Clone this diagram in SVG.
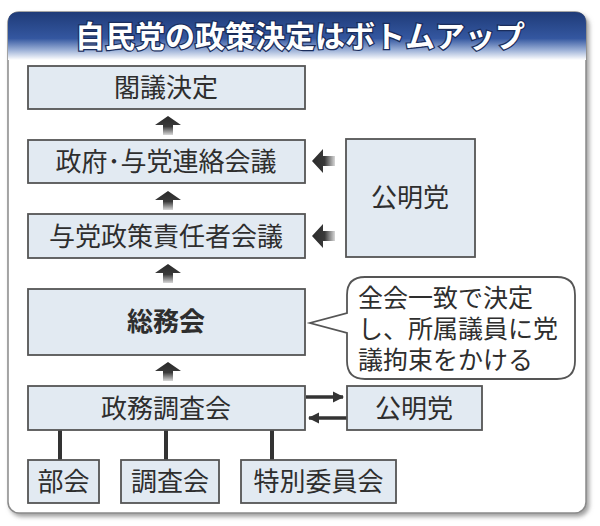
<svg xmlns="http://www.w3.org/2000/svg" width="600" height="526" viewBox="0 0 600 526">
<defs>
<style>
.box{fill:#e2eaf2;stroke:#555;stroke-width:1.8}
.t{font-family:"Noto Sans CJK JP","Noto Sans CJK SC",sans-serif;font-size:26px;fill:#2e2e2e;text-anchor:middle}
.tb{font-weight:bold}
.bt{font-family:"Noto Sans CJK JP","Noto Sans CJK SC",sans-serif;font-size:25px;fill:#2e2e2e}
.ln{stroke:#333;stroke-width:4;fill:none}
.ar{stroke:#333;stroke-width:3.5;fill:none}
</style>
<linearGradient id="hdr" x1="0" y1="0" x2="0" y2="1">
<stop offset="0" stop-color="#1f3b78"/>
<stop offset="0.55" stop-color="#3457a0"/>
<stop offset="0.8" stop-color="#9fb3d8"/>
<stop offset="1" stop-color="#ffffff"/>
</linearGradient>
<linearGradient id="ug" x1="0" y1="0" x2="0" y2="1">
<stop offset="0" stop-color="#2a2a2a"/>
<stop offset="0.55" stop-color="#3a3a3a"/>
<stop offset="1" stop-color="#d8d8d8"/>
</linearGradient>
<linearGradient id="lg" x1="0" y1="0" x2="1" y2="0">
<stop offset="0" stop-color="#2a2a2a"/>
<stop offset="0.55" stop-color="#3a3a3a"/>
<stop offset="1" stop-color="#d8d8d8"/>
</linearGradient>
<path id="up" d="M0,0 L13,9 L5,9 L5,19 L-5,19 L-5,9 L-13,9 Z" fill="url(#ug)"/>
<path id="lt" d="M0,0 L11,-12 L11,-5 L23,-5 L23,5 L11,5 L11,12 Z" fill="url(#lg)"/>
<marker id="ah" viewBox="0 0 10 10" refX="9" refY="5" markerWidth="3.2" markerHeight="3.2" orient="auto" markerUnits="strokeWidth">
<path d="M0,0 L10,5 L0,10 Z" fill="#333"/>
</marker>
<filter id="sh" x="-5%" y="-5%" width="110%" height="110%">
<feDropShadow dx="2.5" dy="3" stdDeviation="2" flood-color="#777" flood-opacity="0.7"/>
</filter>
</defs>

<g id="panel">
<rect x="8" y="12" width="578" height="501" rx="11" fill="#fff" stroke="#8a8a8a" stroke-width="1.5" filter="url(#sh)"/>
<path d="M8,60 L8,23 Q8,12 19,12 L575,12 Q586,12 586,23 L586,60 Z" fill="url(#hdr)"/>
<text x="300" y="47" font-family="Noto Sans CJK JP,Noto Sans CJK SC,sans-serif" font-size="30" font-weight="bold" fill="#fff" text-anchor="middle" stroke="#1a2d5c" stroke-width="2.5" paint-order="stroke">自民党の政策決定はボトムアップ</text>
</g>

<g id="connectors">
<use href="#up" x="168" y="116"/>
<use href="#up" x="168" y="191"/>
<use href="#up" x="168" y="264"/>
<use href="#up" x="168" y="362"/>
<use href="#lt" x="312" y="161"/>
<use href="#lt" x="312" y="236"/>
<line class="ar" x1="306" y1="397" x2="343" y2="397" marker-end="url(#ah)"/>
<line class="ar" x1="347" y1="418" x2="309" y2="418" marker-end="url(#ah)"/>
<line class="ln" x1="60" y1="430" x2="60" y2="460"/>
<line class="ln" x1="166" y1="430" x2="166" y2="460"/>
<line class="ln" x1="272" y1="430" x2="272" y2="460"/>
</g>

<g id="kakugi">
<rect class="box" x="28" y="66" width="277" height="43"/>
<text class="t" x="166" y="97">閣議決定</text>
</g>
<g id="renraku">
<rect class="box" x="28" y="140" width="277" height="43"/>
<text class="t" x="166" y="171">政府･与党連絡会議</text>
</g>
<g id="sekinin">
<rect class="box" x="28" y="214" width="277" height="44"/>
<text class="t" x="166" y="246">与党政策責任者会議</text>
</g>
<g id="soumu">
<rect class="box" x="28" y="289" width="277" height="66"/>
<text class="t tb" x="166" y="331">総務会</text>
</g>
<g id="seimu">
<rect class="box" x="28" y="386" width="277" height="44"/>
<text class="t" x="166" y="418">政務調査会</text>
</g>
<g id="komei1">
<rect class="box" x="346" y="139" width="129" height="118"/>
<text class="t" x="410" y="207">公明党</text>
</g>
<g id="komei2">
<rect class="box" x="347" y="386" width="135" height="44"/>
<text class="t" x="414" y="418">公明党</text>
</g>
<g id="bubble">
<path d="M365,277 L557,277 Q575,277 575,295 L575,361 Q575,379 557,379 L365,379 Q347,379 347,361 L347,333 L310,323 L347,313 L347,295 Q347,277 365,277 Z" fill="#fff" stroke="#555" stroke-width="1.8"/>
<text class="bt"><tspan x="358" y="307">全会一致で決定</tspan><tspan x="358" y="338">し、所属議員に党</tspan><tspan x="358" y="369">議拘束をかける</tspan></text>
</g>
<g id="bukai">
<rect class="box" x="28" y="460" width="71" height="43"/>
<text class="t" x="63.500" y="491">部会</text>
</g>
<g id="chousakai">
<rect class="box" x="121" y="460" width="98" height="43"/>
<text class="t" x="170" y="491">調査会</text>
</g>
<g id="tokubetsu">
<rect class="box" x="241" y="460" width="155" height="43"/>
<text class="t" x="318.500" y="491">特別委員会</text>
</g>
</svg>
